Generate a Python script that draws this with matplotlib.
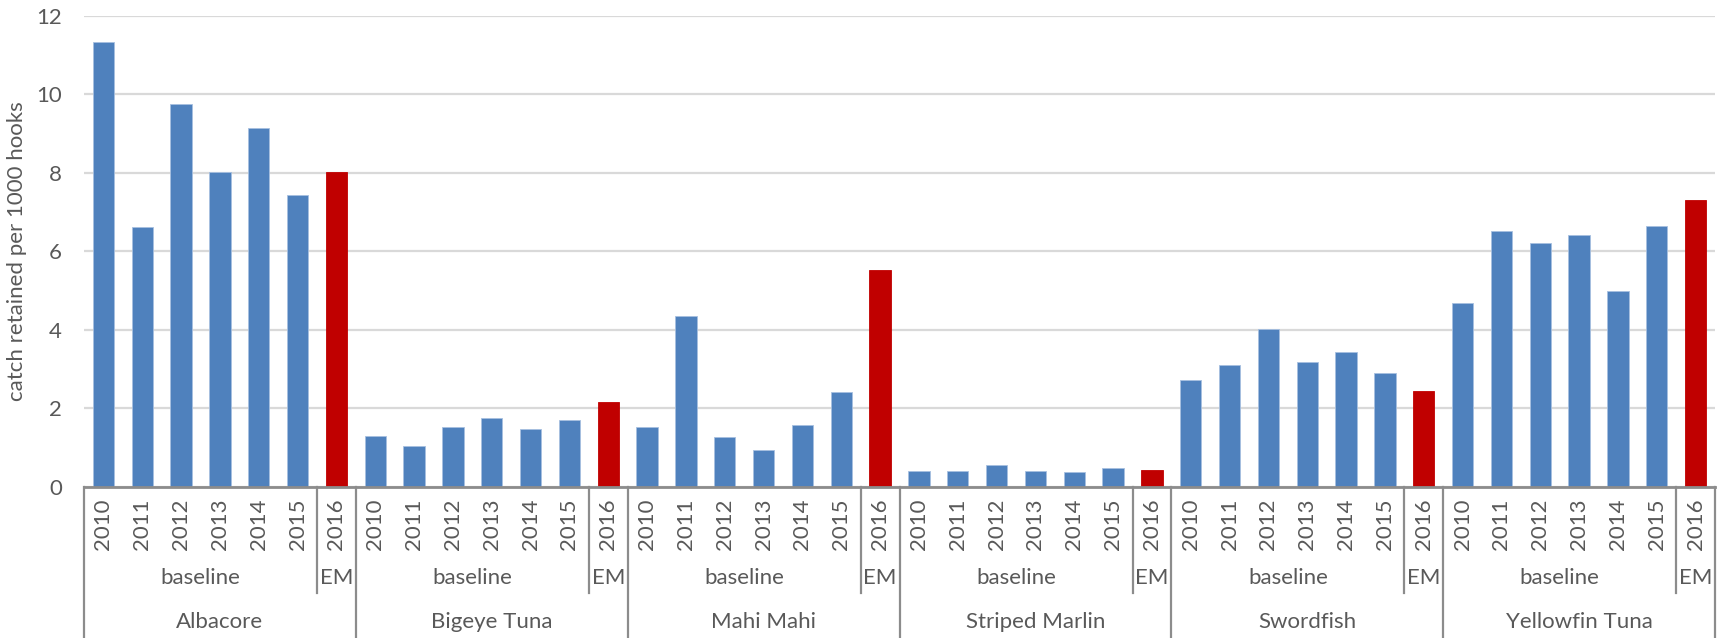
import matplotlib
matplotlib.use("Agg")
import matplotlib.pyplot as plt
from matplotlib.transforms import blended_transform_factory
import numpy as np

plt.rcParams['font.family'] = ['Lato', 'DejaVu Sans']

species = ["Albacore", "Bigeye Tuna", "Mahi Mahi", "Striped Marlin", "Swordfish", "Yellowfin Tuna"]
years = ["2010", "2011", "2012", "2013", "2014", "2015", "2016"]
periods = ["baseline"] * 6 + ["EM"]

albacore = [11.32, 6.63, 9.76, 8.02, 9.13, 7.43, 8.02]
bigeye = [1.29, 1.05, 1.53, 1.75, 1.48, 1.71, 2.17]
mahi = [1.53, 4.36, 1.27, 0.94, 1.58, 2.42, 5.52]
striped = [0.40, 0.41, 0.56, 0.42, 0.39, 0.48, 0.44]
swordfish = [2.73, 3.11, 4.03, 3.17, 3.45, 2.89, 2.44]
yellowfin = [4.68, 6.53, 6.20, 6.42, 4.98, 6.64, 7.30]

series = [albacore, bigeye, mahi, striped, swordfish, yellowfin]

BLUE = "#4F81BD"
RED = "#C00000"
TXT = "#595959"
GRID = "#D9D9D9"
AXC = "#8C8C8C"
FS = 16

W, H = 1718, 638
fig = plt.figure(figsize=(W / 100, H / 100), dpi=100)
left, right, top, bottom = 84, 1715, 15.7, 487
ax = fig.add_axes([left / W, 1 - bottom / H, (right - left) / W, (bottom - top) / H])

values = [v for s in series for v in s]
colors = [(RED if p == "EM" else BLUE) for _ in series for p in periods]
x = np.arange(len(values))
ax.bar(x, values, width=0.55, color=colors, edgecolor=[c if c == RED else "#A7C0E0" for c in colors],
       linewidth=0.6, zorder=3)

ax.set_xlim(-0.5, len(values) - 0.5)
ax.set_ylim(0, 12)
ax.set_yticks(np.arange(0, 13, 2))
ax.yaxis.grid(True, color=GRID, linewidth=1.6, zorder=0)
ax.set_axisbelow(True)
for s in ["top", "right", "left"]:
    ax.spines[s].set_visible(False)
ax.spines["bottom"].set_color(AXC)
ax.spines["bottom"].set_linewidth(2)
ax.spines["bottom"].set_zorder(4)
ax.tick_params(axis="y", length=0, labelsize=FS, labelcolor=TXT, pad=16)
ax.set_xticks([])
ax.set_ylabel("catch retained per 1000 hooks", fontsize=FS, color=TXT)
ax.yaxis.set_label_coords(-0.035, 0.5)

tr = blended_transform_factory(ax.transData, fig.transFigure)
def fy(py):
    return 1 - py / H

y_year = fy(524)
y_period = fy(578)
y_species = fy(622)

n = len(years)
for gi, sp in enumerate(species):
    base = gi * n
    for yi, yr in enumerate(years):
        ax.text(base + yi, y_year, yr, transform=tr, rotation=90, ha="center", va="center",
                fontsize=FS, color=TXT, clip_on=False)
    nb = periods.count("baseline")
    ax.text(base + (nb - 1) / 2, y_period, "baseline", transform=tr, ha="center", va="center",
            fontsize=FS, color=TXT, clip_on=False)
    ax.text(base + nb, y_period, "EM", transform=tr, ha="center", va="center",
            fontsize=FS, color=TXT, clip_on=False)
    ax.text(base + (n - 1) / 2, y_species, sp, transform=tr, ha="center", va="center",
            fontsize=FS, color=TXT, clip_on=False)
    ax.plot([base - 0.5, base - 0.5], [fy(487), fy(640)], transform=tr, color=AXC, lw=1.6, clip_on=False)
    ax.plot([base + nb - 0.5, base + nb - 0.5], [fy(487), fy(593)], transform=tr, color=AXC, lw=1.6, clip_on=False)
ax.plot([len(values) - 0.5] * 2, [fy(487), fy(640)], transform=tr, color=AXC, lw=1.6, clip_on=False)

fig.savefig("out.png", dpi=100, facecolor="white")
